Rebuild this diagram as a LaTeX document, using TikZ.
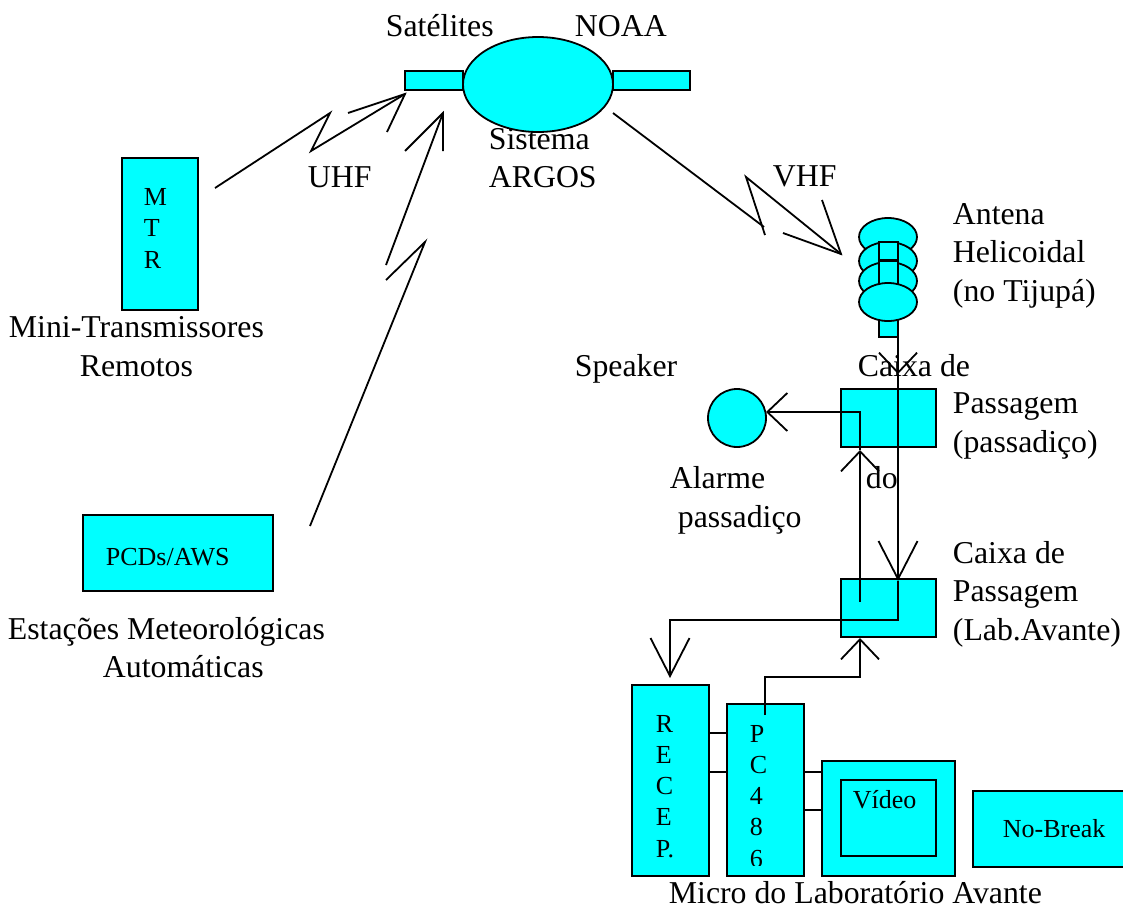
\documentclass[tikz,border=0pt]{standalone}
\usepackage{fontspec}
\setmainfont{Liberation Serif}
\usetikzlibrary{arrows.meta,shapes.geometric}
\definecolor{boxcyan}{RGB}{0,255,255}

\begin{document}
\begin{tikzpicture}[x=1pt,y=-1pt,line width=1.8pt,
    box/.style={rectangle,draw=black,fill=boxcyan,inner sep=0pt,outer sep=0pt},
    oval/.style={ellipse,draw=black,fill=boxcyan,inner sep=0pt,outer sep=0pt,
      minimum width=58pt,minimum height=38pt},
    lbl/.style={anchor=base west,inner sep=0pt,align=left,
      font=\fontsize{31.8}{38.2}\selectfont},
    small/.style={anchor=base west,inner sep=0pt,align=left,
      font=\fontsize{26}{31.2}\selectfont},
    wire/.style={draw=black,line join=miter},
    shortvee/.style={-{Straight Barb[length=20pt,width=38pt]}},
    longvee/.style={-{Straight Barb[length=38pt,width=39pt]}}]
  \useasboundingbox (0,0) rectangle (1123,905);

  % texts that lie under the shapes
  \node[lbl] (sistema) at (488,149) {Sistema};

  % satellite
  \node[box,minimum width=58pt,minimum height=19pt] (panell) at (434,80.5) {};
  \node[box,minimum width=77pt,minimum height=19pt] (panelr) at (651.5,80.5) {};
  \node[oval,minimum width=150pt,minimum height=95pt] (sat) at (538,84.5) {};
  \node[lbl] (satelites) at (385,36) {Satélites};
  \node[lbl] (noaa) at (574,36) {NOAA};
  \node[lbl] (argos) at (488,187) {ARGOS};
  \node[lbl] (uhf) at (307,187) {UHF};
  \node[lbl] (vhf) at (772,186) {VHF};

  % left stations
  \node[box,minimum width=76pt,minimum height=152pt] (mtr) at (160,234) {};
  \node[small] (mtrtxt) at (143,268) {M\\T\\R};
  \node[lbl] (mini) at (8,337) {Mini-Transmissores};
  \node[lbl] (remotos) at (79,376) {Remotos};
  \node[box,minimum width=190pt,minimum height=76pt] (pcd) at (178,553) {};
  \node[small] (pcdtxt) at (105,565) {PCDs/AWS};
  \node[lbl] (estacoes) at (7,639) {Estações Meteorológicas};
  \node[lbl] (automaticas) at (102,677) {Automáticas};

  % antenna
  \node[oval] (anta) at (888,237) {};
  \node[oval] (antb) at (888,261) {};
  \node[oval] (antc) at (888,281) {};
  \node[box,minimum width=19pt,minimum height=18pt] (antup) at (888.5,251) {};
  \node[box,minimum width=19pt,minimum height=76pt] (antbase) at (888.5,299) {};
  \node[oval] (antd) at (888,302) {};
  \node[lbl] (antena) at (952,301) {Antena\\Helicoidal\\(no Tijupá)};

  % junction boxes
  \node[lbl] (caixaa) at (857,376) {Caixa de};
  \node[lbl] (passa) at (952,452) {Passagem\\(passadiço)};
  \node[box,minimum width=95pt,minimum height=58pt] (passbox) at (888.5,418) {};
  \node[box,circle,minimum width=58pt] (speaker) at (737,418) {};
  \node[lbl] (speakertxt) at (574,376) {Speaker};
  \node[lbl] (alarme) at (669,488) {Alarme};
  \node[lbl] (passadico) at (677,527) {passadiço};
  \node[lbl] (dotxt) at (865,488) {do};
  \node[box,minimum width=95pt,minimum height=58pt] (labbox) at (888.5,608) {};
  \node[lbl] (caixab) at (952,640) {Caixa de\\Passagem\\(Lab.Avante)};

  % micro
  \node[box,minimum width=77pt,minimum height=191pt] (recep) at (670.5,780.5) {};
  \node[small] (receptxt) at (655,857) {R\\E\\C\\E\\P.};
  \node[box,minimum width=77pt,minimum height=172pt] (pc) at (765.5,790) {};
  \begin{scope}
    \clip (727,704) rectangle (804,865);
    \node[small] (pctxt) at (749,867) {P\\C\\4\\8\\6};
  \end{scope}
  \node[box,line width=2.2pt,minimum width=133pt,minimum height=115pt] (video) at (888.5,818.5) {};
  \node[box,line width=2.2pt,minimum width=95pt,minimum height=76pt] (screen) at (888.5,818) {};
  \node[small] (videotxt) at (852,808) {Vídeo};
  \node[box,line width=2.2pt,minimum width=154pt,minimum height=76pt] (nobreak) at (1050,829) {};
  \node[small] (nobreaktxt) at (1002,837) {No-Break};
  \node[lbl] (micro) at (668,903) {Micro do Laboratório Avante};

  % UHF links
  \coordinate (uhfa) at (215,188);
  \coordinate (uhfb) at (330,113);
  \coordinate (uhfc) at (311,151);
  \coordinate (uhftip) at (405,94);
  \coordinate (uhfl) at (348,113);
  \coordinate (uhfr) at (387,132);
  \draw[wire] (uhfa) -- (uhfb) -- (uhfc) -- (uhftip);
  \draw[wire] (uhfl) -- (uhftip) -- (uhfr);
  \coordinate (pcda) at (310,526);
  \coordinate (pcdb) at (425,242);
  \coordinate (pcdc) at (386,280);
  \coordinate (pcdd) at (386,265);
  \coordinate (pcdtip) at (443,113);
  \coordinate (pcdl) at (405,151);
  \coordinate (pcdr) at (443,151);
  \draw[wire] (pcda) -- (pcdb) -- (pcdc);
  \draw[wire] (pcdd) -- (pcdtip);
  \draw[wire] (pcdl) -- (pcdtip) -- (pcdr);

  % VHF link
  \coordinate (vhfa) at (613,113);
  \coordinate (vhfb) at (764,227);
  \coordinate (vhfc) at (746,177);
  \coordinate (vhfd) at (765,235);
  \coordinate (vhftip) at (841,254);
  \coordinate (vhfl) at (783,233);
  \coordinate (vhfr) at (822,200);
  \draw[wire] (vhfa) -- (vhfb);
  \draw[wire] (vhfd) -- (vhfc) -- (vhftip);
  \draw[wire] (vhfl) -- (vhftip) -- (vhfr);

  % wires
  \coordinate (tipa) at (898,374);
  \coordinate (tipb) at (898,581);
  \coordinate (bendr) at (898,620);
  \coordinate (bendl) at (670,620);
  \coordinate (tipc) at (670,678);
  \draw[wire,shortvee] (antbase.south east) -- (tipa);
  \draw[wire,longvee] (tipa) -- (tipb);
  \draw[wire,longvee] (tipb) -- (bendr) -- (bendl) -- (tipc);
  \coordinate (upa) at (860,602);
  \coordinate (upb) at (860,450);
  \coordinate (upc) at (860,412);
  \coordinate (upd) at (766,412);
  \draw[wire,shortvee] (upa) -- (upb);
  \draw[wire,shortvee] (upb) -- (upc) -- (upd);
  \coordinate (pca) at (765,715);
  \coordinate (pcb) at (765,677);
  \coordinate (pcc) at (860,677);
  \coordinate (pcd2) at (860,638);
  \draw[wire,shortvee] (pca) -- (pcb) -- (pcc) -- (pcd2);

  % short links of the micro
  \coordinate (rowa) at (0,733);
  \coordinate (rowb) at (0,772);
  \coordinate (rowc) at (0,810);
  \draw[wire] (recep.east |- rowa) -- (pc.west |- rowa);
  \draw[wire] (recep.east |- rowb) -- (pc.west |- rowb);
  \draw[wire] (pc.east |- rowb) -- (video.west |- rowb);
  \draw[wire] (pc.east |- rowc) -- (video.west |- rowc);
\end{tikzpicture}
\end{document}
